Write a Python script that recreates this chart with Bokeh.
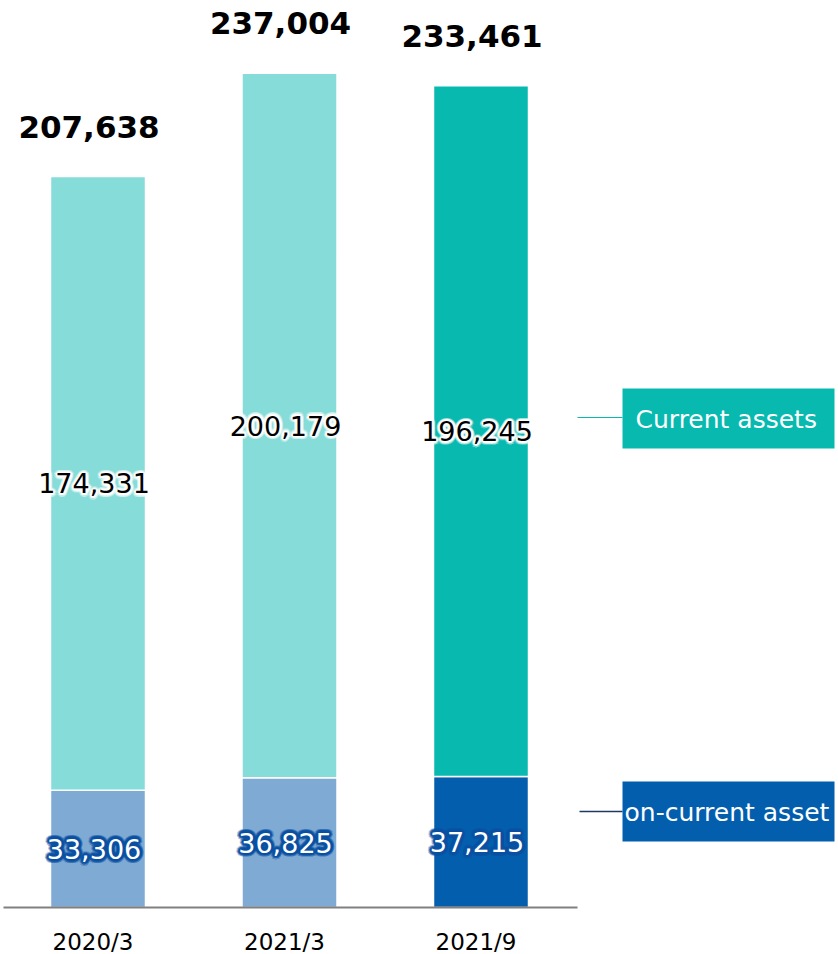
import math
from bokeh.plotting import figure
from bokeh.models import ColumnDataSource, Range1d
from bokeh.core.properties import value
from bokeh.embed import file_html
from bokeh.resources import INLINE

# ---- data ----
periods = ["2020/3", "2021/3", "2021/9"]
non_current = [33306, 36825, 37215]
current = [174331, 200179, 196245]
totals = [207638, 237004, 233461]
current_colors = ["#85DCD8", "#85DCD8", "#07B9AF"]
non_current_colors = ["#7FAAD4", "#7FAAD4", "#035FAE"]
legend_names = ["Current assets", "on-current asset"]

# ---- layout helpers (picture pixel -> data) ----
W, H = 838, 954
S = 0.0035202          # px per unit
BASE = 907.0           # picture y of zero line
C0, STEP = 97.5, 191.5  # picture x of first bar centre, spacing


def py(pic_y):
    return (BASE - pic_y) / S


def px(pic_x):
    return (pic_x - C0) / STEP


FONT = value("DejaVu Sans")

p = figure(width=W, height=H,
           x_range=Range1d(px(0), px(W)), y_range=Range1d(py(H), py(0)),
           output_backend="svg", toolbar_location=None, min_border=0,
           x_axis_type=None, y_axis_type=None, outline_line_color=None,
           background_fill_color="white", border_fill_color="white")

idx = list(range(len(periods)))
stack_top = [n + c for n, c in zip(non_current, current)]
src = ColumnDataSource(dict(
    x=idx, period=periods, nc=non_current, cur=current, tot=totals, top=stack_top,
    nc_mid=[n / 2 for n in non_current],
    cur_mid=[n + c / 2 for n, c in zip(non_current, current)],
    nc_txt=[f"{v:,}" for v in non_current],
    cur_txt=[f"{v:,}" for v in current],
    tot_txt=[f"{v:,}" for v in totals],
    nc_col=non_current_colors, cur_col=current_colors,
))

BW = 95 / STEP
p.vbar(x="x", width=BW, bottom=0, top="nc", fill_color="nc_col",
       line_color="white", line_width=1.5, source=src)
p.vbar(x="x", width=BW, bottom="nc", top="top", fill_color="cur_col",
       line_color="white", line_width=1.5, source=src)

# axis line
p.segment(x0=[px(3)], y0=[0], x1=[px(577)], y1=[0], line_color="#808080", line_width=2)


def glow(xf, yf, tf, color, glow_color, size, rings, xo=-4):
    for r, al in rings:
        for k in range(16):
            a = 2 * math.pi * k / 16
            p.text(x=xf, y=yf, text=tf, source=src, x_offset=xo + r * math.cos(a),
                   y_offset=r * math.sin(a), text_color=glow_color, text_alpha=al,
                   text_font=FONT, text_font_size=size, text_align="center",
                   text_baseline="middle")
    p.text(x=xf, y=yf, text=tf, source=src, x_offset=xo, text_color=color,
           text_font=FONT, text_font_size=size, text_align="center",
           text_baseline="middle")


glow("x", "cur_mid", "cur_txt", "#000000", "#FFFFFF", "27px",
     ((3.5, 0.3), (2.0, 0.6)))
glow("x", "nc_mid", "nc_txt", "#FFFFFF", "#0A50A2", "27px",
     ((4.0, 0.3), (2.8, 0.5), (1.6, 0.8)))

# totals
p.text(x="x", y="tot", text="tot_txt", source=src, x_offset=-9, y_offset=-50,
       text_color="#000000", text_font=FONT, text_font_size="31px",
       text_font_style="bold", text_align="center", text_baseline="alphabetic")

# category labels
p.text(x="x", y=py(941), text="period", source=src, x_offset=-5,
       text_color="#000000", text_font=FONT, text_font_size="23px",
       text_align="center", text_baseline="middle")

# legend callouts
p.segment(x0=[px(577)], y0=[py(417)], x1=[px(622)], y1=[py(417)],
          line_color="#07B9AF", line_width=1.2)
p.quad(left=[px(622)], right=[px(834)], bottom=[py(448)], top=[py(388)],
       fill_color="#07B9AF", line_color=None)
p.text(x=[px(635)], y=[py(419)], text=[legend_names[0]], text_color="white",
       text_font=FONT, text_font_size="25px", text_align="left", text_baseline="middle")

p.segment(x0=[px(579)], y0=[py(811)], x1=[px(622)], y1=[py(811)],
          line_color="#203864", line_width=1.5)
p.quad(left=[px(622)], right=[px(834)], bottom=[py(841)], top=[py(781)],
       fill_color="#035FAE", line_color=None)
p.text(x=[px(624)], y=[py(812)], text=[legend_names[1]], text_color="white",
       text_font=FONT, text_font_size="25px", text_align="left", text_baseline="middle")

open("out.html", "w").write(file_html(p, INLINE))
